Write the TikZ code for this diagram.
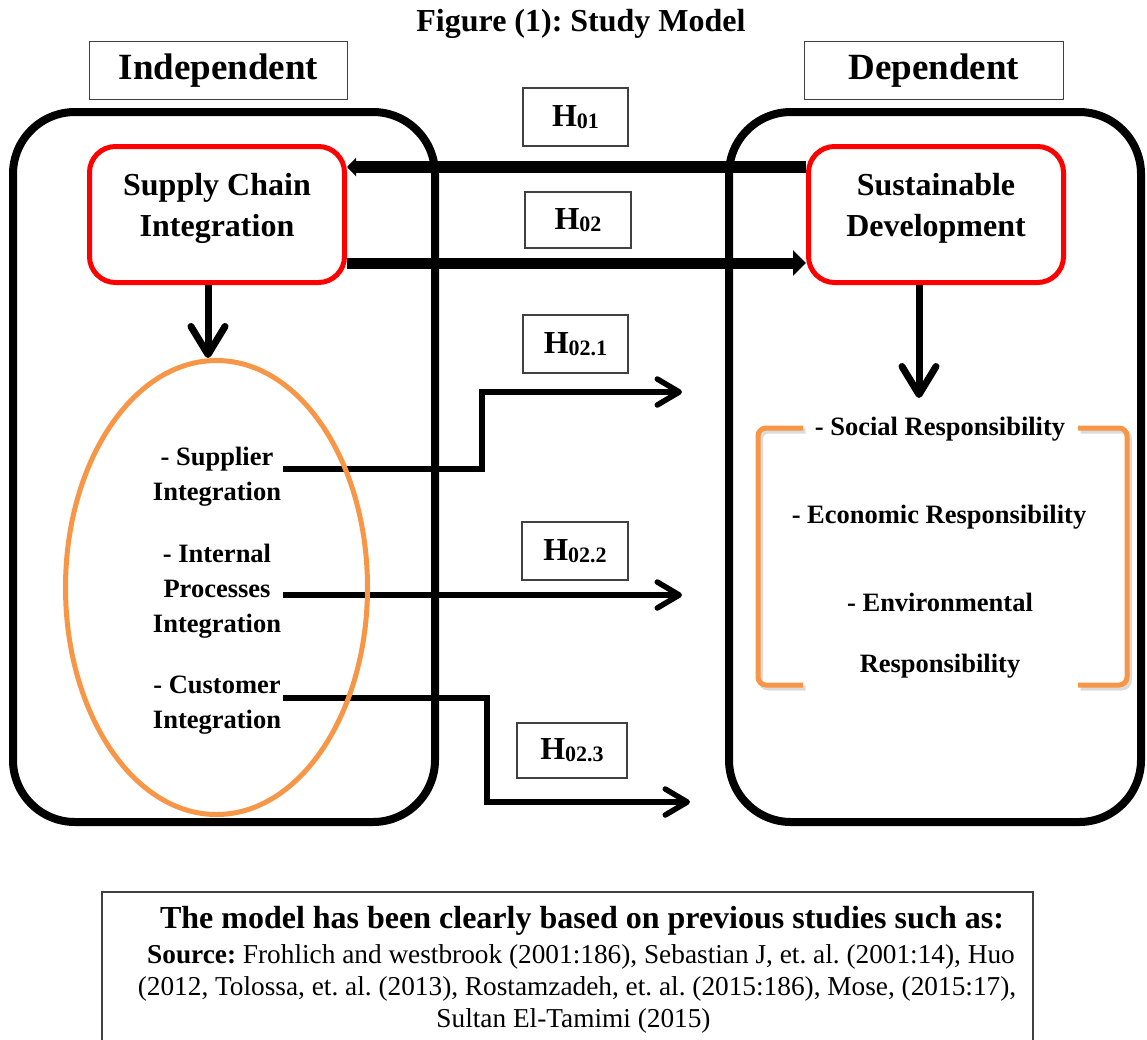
\documentclass[tikz,border=0pt]{standalone}
\usepackage{fontspec}
\setmainfont{Liberation Serif}
\usetikzlibrary{arrows.meta,shapes.geometric,calc}
\frenchspacing

\definecolor{boxred}{RGB}{255,0,0}
\definecolor{accentorange}{RGB}{247,150,70}
\definecolor{framegray}{RGB}{64,64,64}

% hypothesis label: H with a lowered smaller index
\newcommand{\Hlabel}[1]{\fontsize{32}{32}\selectfont H\raisebox{-2pt}{\fontsize{22}{22}\selectfont #1}}

\tikzset{
  panel/.style={draw, line width=8pt, rounded corners=62pt, inner sep=0pt,
                minimum height=710pt},
  varbox/.style={draw=boxred, line width=5pt, rounded corners=26pt, inner sep=0pt,
                 minimum width=255pt, minimum height=136pt},
  tagbox/.style={draw=framegray, line width=1.3pt, inner sep=0pt},
  hbox/.style={tagbox, font=\bfseries},
  vartext/.style={font=\bfseries\fontsize{32}{41}\selectfont, align=center, inner sep=0pt},
  itemtext/.style={font=\bfseries\fontsize{26.5}{35}\selectfont, align=center, inner sep=0pt},
  mainlink/.style={line width=11pt, -{Triangle[length=13pt,width=25pt]}},
  backlink/.style={line width=12pt, -{Triangle[length=9pt,width=18pt]}},
  sublink/.style={line width=5.5pt, -{Straight Barb[length=22pt,width=26pt,round]}},
  downlink/.style={line width=7pt, -{Straight Barb[length=28pt,width=34pt,round]}},
  bracketline/.style={draw=accentorange, line width=5pt, rounded corners=8pt},
}

\begin{document}
\begin{tikzpicture}[x=1pt, y=-1pt]
\useasboundingbox (0,0) rectangle (1147,1039);
\clip (0,0) rectangle (1147,1039);

% heading
\node[font=\bfseries\fontsize{32}{38}\selectfont, inner sep=0pt] (title) at (581,24) {Figure (1): Study Model};

% group captions
\node[tagbox, minimum width=258pt, minimum height=58pt, font=\bfseries\fontsize{37}{44}\selectfont]
  (indep) at (218.5,70.5) {Independent};
\node[tagbox, minimum width=259pt, minimum height=58pt, font=\bfseries\fontsize{37}{44}\selectfont]
  (dep) at (934,70.5) {Dependent};

% the two large panels
\node[panel, minimum width=422pt] (lpanel) at (224,467) {};
\node[panel, minimum width=412pt] (rpanel) at (935,467) {};

% main variables
\node[varbox] (sci) at (217,214.5) {};
\node[vartext] (scitext) at (217,208) {Supply Chain\\Integration};
\node[varbox] (sd) at (936,214.5) {};
\node[vartext] (sdtext) at (936,208) {Sustainable\\Development};

% hypothesis labels
\node[hbox, minimum width=105pt, minimum height=58pt] (h01)  at (575.5,117) {\Hlabel{01}};
\node[hbox, minimum width=106pt, minimum height=56pt] (h02)  at (578,220)   {\Hlabel{02}};
\node[hbox, minimum width=105pt, minimum height=58pt] (h021) at (575.5,344) {\Hlabel{02.1}};
\node[hbox, minimum width=106pt, minimum height=58pt] (h022) at (575,551)   {\Hlabel{02.2}};
\node[hbox, minimum width=110pt, minimum height=55pt] (h023) at (572,750.5) {\Hlabel{02.3}};

% dimensions of supply chain integration
\node[itemtext] (supp) at (217,477) {- Supplier\\Integration};
\node[itemtext] (intp) at (217,591) {- Internal\\Processes\\Integration};
\node[itemtext] (cust) at (217,705) {- Customer\\Integration};

% dimensions of sustainable development
\node[itemtext] (soc) at (940,429) {- Social Responsibility};
\node[itemtext] (eco) at (939,517) {- Economic Responsibility};
\node[font=\bfseries\fontsize{26.5}{61}\selectfont, align=center, inner sep=0pt]
  (env) at (940,635.5) {- Environmental\\Responsibility};

% free ends and bends of the connectors
\coordinate (resptop) at (919,398);
\coordinate (j1) at (482,392);
\coordinate (t1) at (682,392);
\coordinate (t2) at (682,595);
\coordinate (j3) at (487,802);
\coordinate (t3) at (690,802);

% connectors between the main variables
\draw[backlink] ([yshift=47.5pt]sd.west) -- ([yshift=47.5pt]sci.east);
\draw[mainlink] ([yshift=-48.5pt]sci.east) -- ([yshift=-48.5pt]sd.west);
\draw[downlink] (sd.south -| resptop) -- (resptop);

% connectors from the dimensions
\draw[sublink] ([xshift=2pt,yshift=8pt]supp.east) -| (j1) -- (t1);
\draw[sublink] ([xshift=2pt,yshift=-4pt]intp.east) -- (t2);
\draw[sublink] ([xshift=2pt,yshift=7pt]cust.east) -| (j3) -- (t3);

% ellipse around the dimensions, on top of the connectors
\node[draw=accentorange, line width=5pt, ellipse, minimum width=302pt,
      minimum height=454pt, inner sep=0pt] (ell) at (216.5,587.5) {};
\draw[downlink] ([xshift=-9pt]sci.south) -- ([xshift=-8.5pt]ell.north);

% bracket with a soft shadow
\begin{scope}[shift={(2.5,3)}]
  \draw[bracketline, draw=black!35, opacity=0.4] (803,428) -- (758,428) -- (758,685) -- (803,685);
  \draw[bracketline, draw=black!35, opacity=0.4] (1078,428) -- (1127,428) -- (1127,685) -- (1078,685);
\end{scope}
\draw[bracketline] (803,428) -- (758,428) -- (758,685) -- (803,685);
\draw[bracketline] (1078,428) -- (1127,428) -- (1127,685) -- (1078,685);

% note on sources
\draw[framegray, line width=1.3pt] (102,1045) -- (102,892) -- (1033,892) -- (1033,1045);
\node[font=\bfseries\fontsize{32}{38}\selectfont, inner sep=0pt] (notehead) at (582,920.5)
  {The model has been clearly based on previous studies such as:};
\node[font=\fontsize{27.3}{32}\selectfont, align=center, inner sep=0pt] (notesrc) at (577,988.5)
  {\hspace*{8pt}\textbf{Source:} Frohlich and westbrook (2001:186), Sebastian J, et. al. (2001:14), Huo\\
   (2012, Tolossa, et. al. (2013), Rostamzadeh, et. al. (2015:186), Mose, (2015:17),\hspace*{12pt}\\
   Sultan El-Tamimi (2015)\hspace*{7pt}};
\end{tikzpicture}
\end{document}
